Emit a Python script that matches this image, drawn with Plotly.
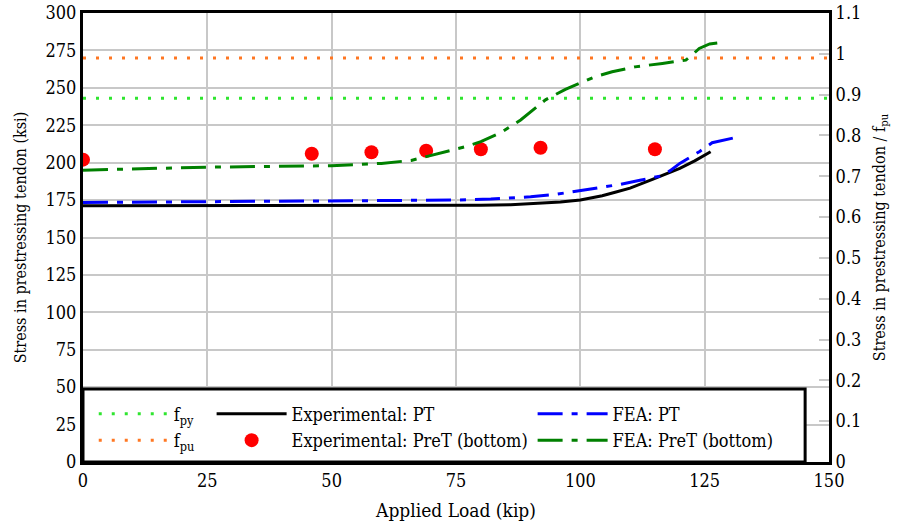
import plotly.graph_objects as go

# horizontal reference stresses (ksi)
load_range = [0, 150]
fpy = 243
fpu = 270

# Experimental: PT (solid black)
exp_pt_load = [0, 20, 46, 58, 69, 80, 86, 92, 96, 100, 104.4, 107, 110, 114.5, 117, 120, 123, 126.2]
exp_pt_stress = [171.2, 171.2, 171.3, 171.3, 171.4, 171.5, 171.9, 172.8, 173.8, 175, 177.9, 180.2, 183, 188.8, 192, 196.2, 201.2, 207.3]

# Experimental: PreT (bottom) (red markers)
exp_pret_load = [0, 46, 58, 69, 80, 92, 115]
exp_pret_stress = [202, 206, 207, 208, 209, 210, 209]

# FEA: PT (blue dash-dot)
fea_pt_load = [0, 25, 50, 75, 82, 90, 95, 100, 104, 108, 112, 116, 118, 120, 122, 124, 126.5, 129, 131.3]
fea_pt_stress = [173.4, 173.8, 174.2, 175, 175.7, 177.2, 178.8, 181.2, 183.3, 185.5, 188.2, 191, 194.5, 199.5, 203.5, 207.5, 213.3, 215.2, 216.9]

# FEA: PreT (bottom) (green dash-dot)
fea_pret_load = [0, 25, 50, 60, 66, 71, 74, 77, 80, 84, 88, 93, 97, 100, 103, 106.4, 111, 116.5, 121.2, 122.5, 123.9, 126, 128.5]
fea_pret_stress = [195, 197, 198, 199.5, 201.5, 205.5, 208, 210.8, 214, 220, 228.5, 242, 249, 253, 257.5, 260.7, 264, 266.3, 268.5, 272, 276.3, 279.3, 280.3]

font = 'DejaVu Serif Condensed, DejaVu Serif'

fig = go.Figure()

fig.add_trace(go.Scatter(x=load_range, y=[fpy, fpy], mode='lines', name='f<sub>py</sub>',
                         line=dict(color='#2fe52f', width=3, dash='3px,10px'), legend='legend'))
fig.add_trace(go.Scatter(x=load_range, y=[fpu, fpu], mode='lines', name='f<sub>pu</sub>',
                         line=dict(color='#ff7722', width=3, dash='3px,10px'), legend='legend'))
fig.add_trace(go.Scatter(x=exp_pt_load, y=exp_pt_stress, mode='lines', name='Experimental: PT',
                         line=dict(color='black', width=3), legend='legend2'))
fig.add_trace(go.Scatter(x=exp_pret_load, y=exp_pret_stress, mode='markers', name='Experimental: PreT (bottom)',
                         marker=dict(color='#ff0000', size=14), legend='legend2'))
fig.add_trace(go.Scatter(x=fea_pt_load, y=fea_pt_stress, mode='lines', name='FEA: PT',
                         line=dict(color='#0000ff', width=3, dash='25px,9px,6px,9px'),
                         legend='legend3'))
fig.add_trace(go.Scatter(x=fea_pret_load, y=fea_pret_stress, mode='lines', name='FEA: PreT (bottom)',
                         line=dict(color='#008000', width=3, dash='25px,9px,6px,9px'),
                         legend='legend3'))
# invisible trace to carry the right axis
fig.add_trace(go.Scatter(x=[0], y=[0], yaxis='y2', mode='markers', marker=dict(opacity=0),
                         showlegend=False, hoverinfo='skip'))

legend_style = dict(font=dict(family=font, size=18, color='black'), bgcolor='rgba(0,0,0,0)',
                    borderwidth=0, yanchor='top', y=0.148, xanchor='left', itemwidth=70,
                    tracegroupgap=0)

fig.update_layout(
    width=902, height=525,
    margin=dict(l=83, r=73, t=13, b=63, autoexpand=False),
    plot_bgcolor='white', paper_bgcolor='white',
    font=dict(family=font, size=18, color='black'),
    xaxis=dict(range=[0, 150], dtick=25, showgrid=True, gridcolor='#c8c8c8', gridwidth=2,
               showline=True, linecolor='black', linewidth=3, mirror=True, ticks='',
               zeroline=False, automargin=False,
               title=dict(text='Applied Load (kip)', font=dict(size=19))),
    yaxis=dict(range=[0, 300], dtick=25, showgrid=True, gridcolor='#c8c8c8', gridwidth=2,
               showline=True, linecolor='black', linewidth=3, ticks='', zeroline=False,
               automargin=False,
               title=dict(text='Stress in prestressing tendon (ksi)', font=dict(size=16))),
    yaxis2=dict(range=[0, 1.1], dtick=0.1, overlaying='y', side='right', showgrid=False,
                showline=True, linecolor='black', linewidth=3, ticks='inside', ticklen=10,
                tickcolor='#c8c8c8', tickwidth=2, zeroline=False, automargin=False,
                title=dict(text='Stress in prestressing tendon / f<sub>pu</sub>', font=dict(size=16),
                           standoff=14)),
    legend=dict(legend_style, x=0.0144),
    legend2=dict(legend_style, x=0.1724),
    legend3=dict(legend_style, x=0.6027),
    showlegend=True,
    shapes=[dict(type='rect', xref='paper', yref='paper', x0=0, x1=0.968, y0=0, y1=0.1626,
                 line=dict(color='black', width=3), fillcolor='white', layer='above')],
)

fig.write_html('out.html', config=dict(displayModeBar=False),
               post_script="document.body.style.margin='0';")
